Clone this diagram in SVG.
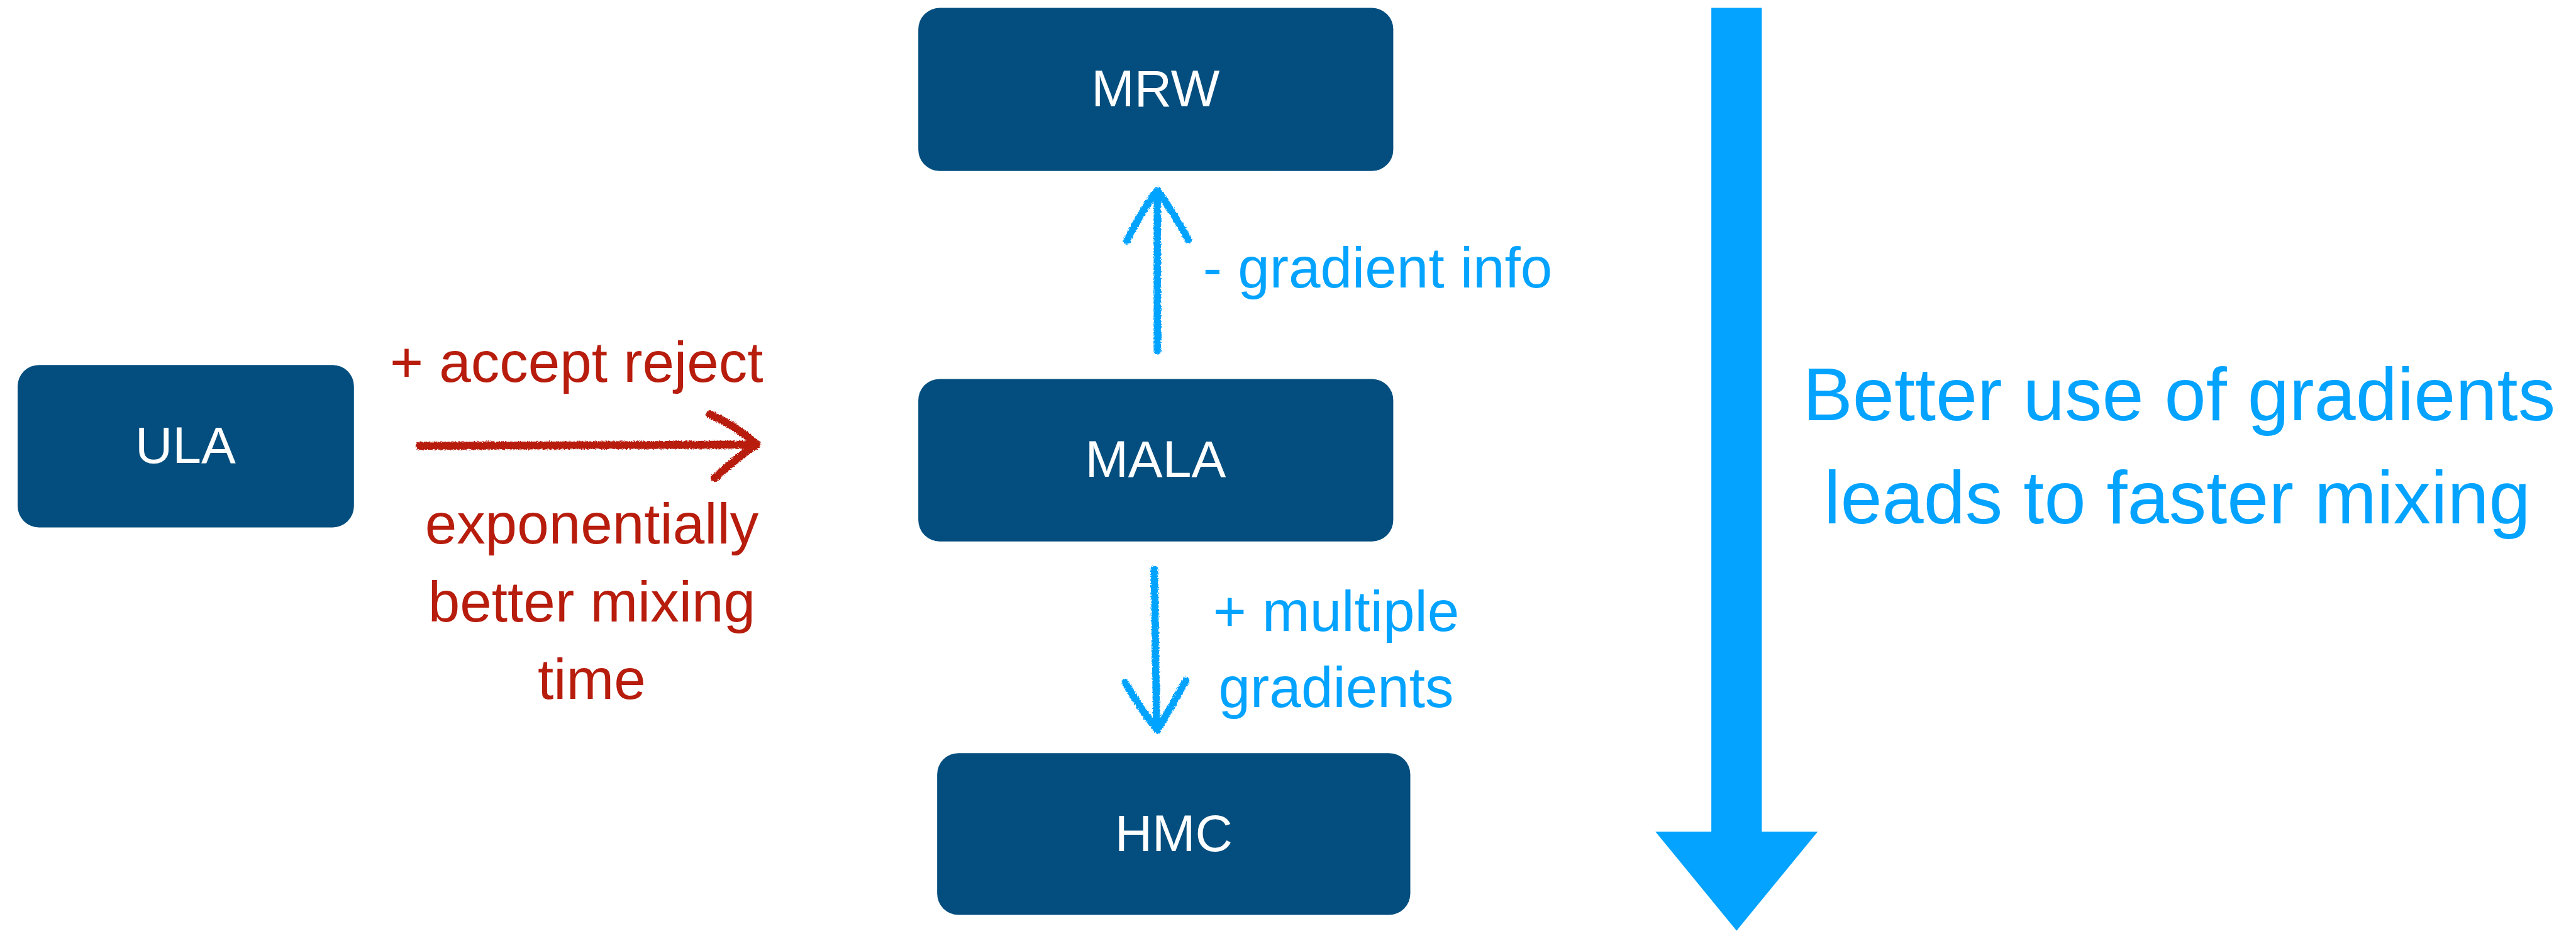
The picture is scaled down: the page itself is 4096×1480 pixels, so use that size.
<svg xmlns="http://www.w3.org/2000/svg" width="4096" height="1480" viewBox="0 0 4096 1480">
<defs>
<style>
.box{fill:#034E7E}
.nlabel{fill:#ffffff;font-family:"Liberation Sans",Arial,sans-serif;font-size:85px;text-anchor:middle}
.red{fill:#B71C0C;font-family:"Liberation Sans",Arial,sans-serif;font-size:94px}
.blue{fill:#03A3FF;font-family:"Liberation Sans",Arial,sans-serif;font-size:94px}
.big{fill:#03A3FF;font-family:"Liberation Sans",Arial,sans-serif;font-size:123px;text-anchor:middle}
.chalk-red{fill:none;stroke:#B71C0C;stroke-width:13;stroke-linecap:round;stroke-linejoin:round}
.chalk-blue{fill:none;stroke:#03A3FF;stroke-width:12;stroke-linecap:round;stroke-linejoin:round}
</style>
<filter id="rough" x="-30%" y="-30%" width="160%" height="160%">
<feTurbulence type="fractalNoise" baseFrequency="0.45" numOctaves="2" seed="4" result="n"/>
<feDisplacementMap in="SourceGraphic" in2="n" scale="6" xChannelSelector="R" yChannelSelector="G"/>
</filter>
</defs>
<rect width="4096" height="1480" fill="#ffffff"/>
<g transform="scale(0.967)">
<g id="node-ULA">
<rect class="box" x="29" y="600" width="553" height="267" rx="35"/>
<text class="nlabel" x="305" y="761">ULA</text>
</g>
<g id="node-MRW">
<rect class="box" x="1510" y="13" width="781" height="268" rx="35"/>
<text class="nlabel" x="1900" y="175">MRW</text>
</g>
<g id="node-MALA">
<rect class="box" x="1510" y="623" width="781" height="267" rx="35"/>
<text class="nlabel" x="1900" y="784">MALA</text>
</g>
<g id="node-HMC">
<rect class="box" x="1541" y="1238" width="778" height="266" rx="35"/>
<text class="nlabel" x="1930" y="1399">HMC</text>
</g>
<g id="connectors">
<g id="edge-ULA-MALA" filter="url(#rough)">
<path class="chalk-red" d="M690 733 L1244 731"/>
<path class="chalk-red" d="M1167 681 Q1210 700 1244 730 Q1205 758 1175 786"/>
</g>
<g id="edge-MALA-MRW" filter="url(#rough)">
<path class="chalk-blue" d="M1903 577 L1903 318"/>
<path class="chalk-blue" d="M1853 396 Q1878 345 1903 313 Q1930 350 1954 394"/>
</g>
<g id="edge-MALA-HMC" filter="url(#rough)">
<path class="chalk-blue" d="M1898 936 L1902 1196"/>
<path class="chalk-blue" d="M1850 1122 Q1875 1165 1903 1200 Q1928 1158 1950 1119"/>
</g>
<g id="big-arrow">
<polygon fill="#03A3FF" points="2814,13 2897,13 2897,1367 2989,1367 2855.5,1530 2722,1367 2814,1367"/>
</g>
</g>
<g id="labels">
<text class="red" x="948" y="628" text-anchor="middle">+ accept reject</text>
<text class="red" x="973" y="893" text-anchor="middle">exponentially</text>
<text class="red" x="973" y="1022" text-anchor="middle">better mixing</text>
<text class="red" x="973" y="1149" text-anchor="middle">time</text>
<text class="blue" x="1978" y="473">- gradient info</text>
<text class="blue" x="2197" y="1037" text-anchor="middle">+ multiple</text>
<text class="blue" x="2197" y="1162" text-anchor="middle">gradients</text>
<text class="big" x="3583" y="691">Better use of gradients</text>
<text class="big" x="3580" y="860">leads to faster mixing</text>
</g>
</g>
</svg>
